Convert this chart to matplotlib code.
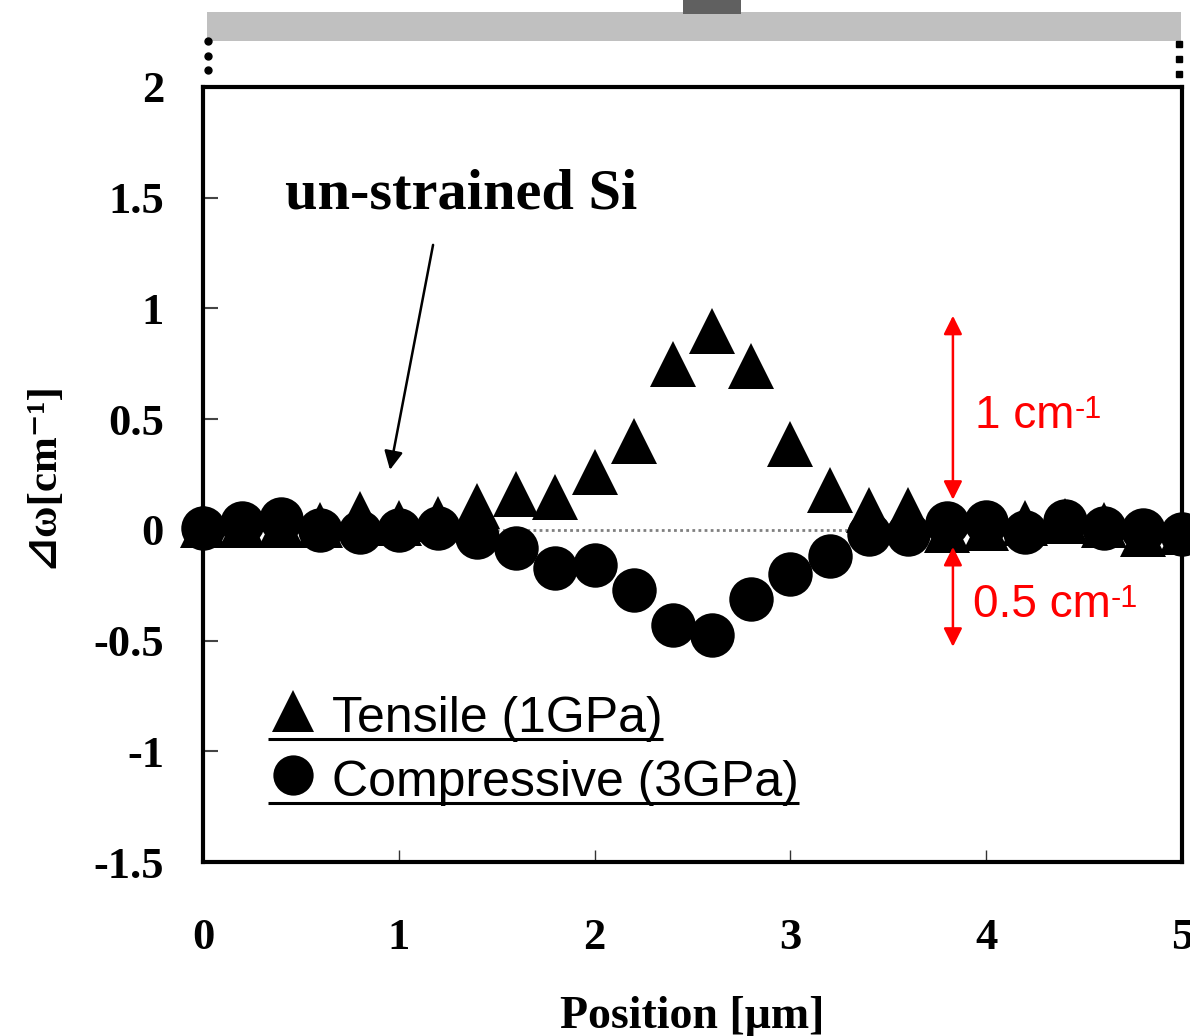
import numpy as np
import matplotlib
matplotlib.use('Agg')
import matplotlib.pyplot as plt
from matplotlib.patches import Rectangle

# Raman shift across the channel, every 0.2 um
position = [0.0, 0.2, 0.4, 0.6, 0.8, 1.0, 1.2, 1.4, 1.6, 1.8, 2.0, 2.2, 2.4,
            2.6, 2.8, 3.0, 3.2, 3.4, 3.6, 3.8, 4.0, 4.2, 4.4, 4.6, 4.8, 5.0]
tensile = [0.02, 0.02, 0.02, 0.02, 0.07, 0.03, 0.05, 0.11, 0.16, 0.15, 0.26,
           0.40, 0.75, 0.90, 0.74, 0.39, 0.18, 0.09, 0.09, 0.0, 0.01, 0.03,
           0.04, 0.02, -0.02, -0.01]
compressive = [0.01, 0.03, 0.05, 0.0, -0.01, 0.0, 0.01, -0.03, -0.08, -0.17,
               -0.16, -0.27, -0.43, -0.475, -0.31, -0.20, -0.12, -0.02, -0.02,
               0.03, 0.035, -0.01, 0.04, 0.01, 0.0, -0.02]

xticks = [0, 1, 2, 3, 4, 5]
xtick_labels = ['0', '1', '2', '3', '4', '5']
yticks = [-1.5, -1, -0.5, 0, 0.5, 1, 1.5, 2]
ytick_labels = ['-1.5', '-1', '-0.5', '0', '0.5', '1', '1.5', '2']

legend_labels = ['Tensile (1GPa)', 'Compressive (3GPa)']

serif = ['Liberation Serif', 'DejaVu Serif', 'DejaVu Sans']
sans = ['Liberation Sans', 'DejaVu Sans']
plt.rcParams['font.family'] = serif
plt.rcParams['axes.unicode_minus'] = False

fig = plt.figure(figsize=(11.9, 10.36), dpi=100)

# device sketch above the plot (pixel coords)
ov = fig.add_axes([0, 0, 1, 1], zorder=0)
ov.set_xlim(0, 1190)
ov.set_ylim(1036, 0)
ov.axis('off')
ov.add_patch(Rectangle((207, 12), 974, 29, color='#c0c0c0', lw=0))
ov.add_patch(Rectangle((683, 0), 58, 14, color='#606060', lw=0))
ov.plot([208, 208, 208], [41, 56, 70], 'o', color='black', ms=5)
ov.plot([1179, 1179, 1179], [44, 59, 74], 's', color='black', ms=5)

ax = fig.add_axes([203/1190, 174/1036, 979/1190, 775/1036], zorder=1)
ax.set_xlim(0, 5)
ax.set_ylim(-1.5, 2)

ax.axhline(0, color='#808080', lw=2, ls=(0, (1, 1.2)), zorder=1)
ax.plot(position, tensile, '^', color='black', ms=33, mew=0,
        clip_on=False, zorder=3)
ax.plot(position, compressive, 'o', color='black', ms=32, mew=0,
        clip_on=False, zorder=3)

for s in ax.spines.values():
    s.set_linewidth(3)
    s.set_zorder(4)

ax.set_xticks(xticks)
ax.set_xticklabels(xtick_labels)
ax.set_yticks(yticks)
ax.set_yticklabels(ytick_labels)
ax.tick_params(axis='y', direction='in', length=11, width=1.5, color='#444444',
               pad=28, labelsize=32)
ax.tick_params(axis='x', direction='in', length=9, width=1, color='#333333',
               pad=40, labelsize=32)
for lbl in ax.get_xticklabels() + ax.get_yticklabels():
    lbl.set_fontweight('bold')

ax.set_xlabel('Position [μm]', fontsize=33, fontweight='bold', va='baseline')
ax.xaxis.set_label_coords(0.5, -0.214)
ax.set_ylabel('⊿ω[cm⁻¹]', fontsize=31, fontweight='bold', va='center')
ax.yaxis.set_label_coords(-0.164, 0.5)

ax.text(0.419, 1.45, 'un-strained Si', fontsize=42, fontweight='bold',
        ha='left', va='baseline')
ax.annotate('', xy=(0.955, 0.271), xytext=(1.175, 1.287),
            arrowprops=dict(arrowstyle='-|>', color='black', lw=1.8,
                            mutation_scale=28, shrinkA=0, shrinkB=0))

# red scale bars for the peak shifts
for top, bottom in [(0.967, 0.136), (-0.077, -0.528)]:
    ax.annotate('', xy=(3.83, top), xytext=(3.83, bottom),
                arrowprops=dict(arrowstyle='<|-|>', color='red', lw=1.8,
                                mutation_scale=28, shrinkA=0, shrinkB=0))
for x, y, s in [(3.943, 0.46, '1 cm'), (3.933, -0.393, '0.5 cm')]:
    t = ax.text(x, y, s, color='red', fontsize=33, family=sans,
                ha='left', va='baseline')
    ax.annotate('-1', xy=(1, 0.97), xycoords=t, color='red', fontsize=22,
                family=sans, ha='left', va='top')

# underlined legend: marker, label, rule underneath
leg_y = [-0.913, -1.203]
leg_marks = ['^', 'o']
texts = []
for y, m, lab in zip(leg_y, leg_marks, legend_labels):
    ax.plot([0.462], [y + 0.095], m, color='black', ms=30 if m == '^' else 29,
            mew=0, zorder=3)
    texts.append(ax.text(0.66, y, lab, fontsize=36, family=sans,
                         ha='left', va='baseline'))
fig.canvas.draw()
renderer = fig.canvas.get_renderer()
inv = ax.transData.inverted()
for t in texts:
    bb = t.get_window_extent(renderer)
    base = ax.transData.transform(t.get_position())[1]
    (_, ya), (xb, _) = inv.transform([(bb.x0, base - 7), (bb.x1, base - 7)])
    ax.plot([0.332, xb], [ya, ya], color='black', lw=2.2, clip_on=False,
            solid_capstyle='butt')

fig.savefig('out.png', dpi=100)
